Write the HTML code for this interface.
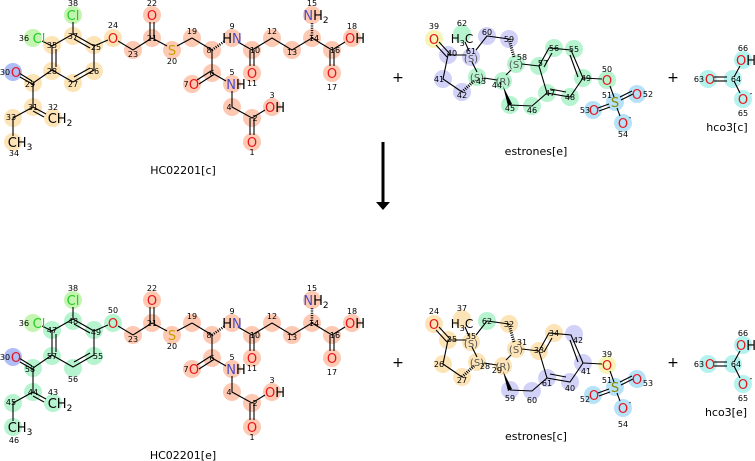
<!DOCTYPE html>
<html><head><meta charset="utf-8"><style>
html,body{margin:0;padding:0;background:#fff;width:755px;height:461px;overflow:hidden}
svg text{font-family:"DejaVu Sans","Liberation Sans",sans-serif;text-anchor:middle}
.n{font-size:8px;fill:#000}
.a{font-size:13px}
.l{font-size:11px;fill:#000}
.O{fill:#e8141a}.N{fill:#4a4ac8}.S{fill:#c8a000}.C{fill:#22cc22}.k{fill:#000}.s{fill:#888800}
line,polyline{stroke:#000;stroke-width:1.1;fill:none}
</style></head><body>
<svg width="755" height="461" viewBox="0 0 755 461" xmlns="http://www.w3.org/2000/svg">
<defs>
<g id="lb">
<polygon points="73,34 94,46 94,70 73,82 52,70 52,46" style="stroke:#000;stroke-width:1.1;fill:none"/>
<line x1="56" y1="49" x2="56" y2="67"/><line x1="74" y1="39" x2="90" y2="48"/><line x1="90" y1="68" x2="74" y2="77"/>
<line x1="73" y1="34" x2="73" y2="22"/><line x1="52" y1="46" x2="42" y2="41"/>
<line x1="94" y1="46" x2="108" y2="40"/><line x1="118" y1="41" x2="133" y2="50"/>
<line x1="133" y1="50" x2="152" y2="38"/><line x1="150" y1="38" x2="150" y2="22"/><line x1="154" y1="38" x2="154" y2="22"/>
<line x1="152" y1="38" x2="167" y2="46"/><line x1="177" y1="46" x2="192" y2="38"/><line x1="192" y1="38" x2="212" y2="50"/>
<line x1="212" y1="50" x2="225" y2="41" style="stroke-dasharray:1 1.3;stroke-width:2.5"/>
<line x1="238" y1="42" x2="252" y2="50"/><line x1="250" y1="50" x2="250" y2="66"/><line x1="254" y1="50" x2="254" y2="66"/>
<polyline points="252,50 272,38 292,50 312,38 332,50"/>
<line x1="312" y1="38" x2="312" y2="23" style="stroke-dasharray:1 1.3;stroke-width:2.5"/>
<line x1="330" y1="50" x2="330" y2="66"/><line x1="334" y1="50" x2="334" y2="66"/><line x1="332" y1="50" x2="345" y2="42"/>
<line x1="212" y1="50" x2="212" y2="73"/><line x1="211" y1="71" x2="197" y2="80"/><line x1="213" y1="75" x2="199" y2="84"/>
<line x1="212" y1="73" x2="226" y2="81"/><polyline points="232,91 232,107 252,118 265,110"/>
<line x1="250" y1="118" x2="250" y2="135"/><line x1="254" y1="118" x2="254" y2="135"/>
<polyline points="52,70 33,83 33,107 13,118 13,136"/><line x1="32" y1="81" x2="19" y2="73"/><line x1="34" y1="85" x2="20" y2="77"/>
<line x1="33" y1="107" x2="46" y2="114"/><line x1="33" y1="111" x2="44" y2="117"/>
</g>
<g id="eb">
<line x1="436" y1="45" x2="447" y2="57"/><line x1="439" y1="42" x2="450" y2="54"/>
<polyline points="466,55 448,55 443,79 462,92"/>
<line x1="462" y1="92" x2="474" y2="81" style="stroke-dasharray:1 1.2;stroke-width:3"/>
<line x1="477" y1="72" x2="472" y2="62"/><line x1="469" y1="51" x2="465" y2="42"/>
<polyline points="476,50 487,36 509,39"/>
<line x1="509" y1="39" x2="514" y2="57" style="stroke-dasharray:1 1.2;stroke-width:3"/>
<line x1="511" y1="70" x2="506" y2="75"/><line x1="497" y1="80" x2="484" y2="78"/>
<polygon points="503,86 508,106 512,104" fill="#000"/>
<polyline points="510,105 532,106 547,93"/><line x1="522" y1="64" x2="539" y2="66"/>
<polygon points="539,66 549,48 571,50 583,78 570,97 547,93" style="stroke:#000;stroke-width:1.1;fill:none"/>
<line x1="544" y1="67" x2="552" y2="53"/><line x1="570" y1="55" x2="578" y2="77"/><line x1="566" y1="92" x2="550" y2="89"/>
<line x1="583" y1="78" x2="602" y2="79"/><line x1="610" y1="86" x2="614" y2="97"/>
<line x1="620" y1="97" x2="632" y2="91"/><line x1="621" y1="100" x2="633" y2="94"/>
<line x1="609" y1="104" x2="598" y2="108"/><line x1="610" y1="107" x2="599" y2="111"/><line x1="617" y1="108" x2="620" y2="116"/>
<line x1="714" y1="77" x2="727" y2="77"/><line x1="714" y1="81" x2="727" y2="81"/>
<line x1="734" y1="77" x2="740" y2="66"/><line x1="734" y1="81" x2="740" y2="93"/>
</g>
</defs>

<!-- TOP LEFT highlights -->
<g fill="#fdc9b2">
<circle cx="152" cy="15" r="9"/><circle cx="152" cy="38" r="9"/><circle cx="133" cy="50" r="9"/><circle cx="172" cy="50" r="9"/><circle cx="192" cy="38" r="9"/><circle cx="212" cy="50" r="9"/><circle cx="232" cy="38" r="9"/><circle cx="252" cy="50" r="9"/><circle cx="252" cy="73" r="9"/><circle cx="272" cy="38" r="9"/><circle cx="292" cy="50" r="9"/><circle cx="312" cy="38" r="9"/><circle cx="312" cy="15" r="9"/><circle cx="332" cy="50" r="9"/><circle cx="332" cy="73" r="9"/><circle cx="352" cy="38" r="9"/><circle cx="212" cy="73" r="9"/><circle cx="192" cy="84" r="9"/><circle cx="232" cy="84" r="9"/><circle cx="232" cy="107" r="9"/><circle cx="252" cy="118" r="9"/><circle cx="272" cy="107" r="9"/><circle cx="252" cy="142" r="9"/>
</g>
<g fill="#fde4b6">
<circle cx="113" cy="38" r="9"/><circle cx="73" cy="36" r="9"/><circle cx="52" cy="45" r="9"/><circle cx="94" cy="45" r="9"/><circle cx="94" cy="71" r="9"/><circle cx="73" cy="83" r="9"/><circle cx="52" cy="71" r="9"/><circle cx="33" cy="83" r="9"/><circle cx="33" cy="107" r="9"/><circle cx="53" cy="118" r="9"/><circle cx="13" cy="118" r="9"/><circle cx="13" cy="142" r="9"/>
</g>
<circle cx="73" cy="15" r="9" fill="#c4f5b0"/><circle cx="33" cy="38" r="9" fill="#c4f5b0"/><circle cx="13" cy="72" r="9" fill="#aebdf5"/>

<!-- BOTTOM LEFT highlights -->
<g transform="translate(0,285)">
<g fill="#fdc9b2">
<circle cx="152" cy="15" r="9"/><circle cx="152" cy="38" r="9"/><circle cx="133" cy="50" r="9"/><circle cx="172" cy="50" r="9"/><circle cx="192" cy="38" r="9"/><circle cx="212" cy="50" r="9"/><circle cx="232" cy="38" r="9"/><circle cx="252" cy="50" r="9"/><circle cx="252" cy="73" r="9"/><circle cx="272" cy="38" r="9"/><circle cx="292" cy="50" r="9"/><circle cx="312" cy="38" r="9"/><circle cx="312" cy="15" r="9"/><circle cx="332" cy="50" r="9"/><circle cx="332" cy="73" r="9"/><circle cx="352" cy="38" r="9"/><circle cx="212" cy="73" r="9"/><circle cx="192" cy="84" r="9"/><circle cx="232" cy="84" r="9"/><circle cx="232" cy="107" r="9"/><circle cx="252" cy="118" r="9"/><circle cx="272" cy="107" r="9"/><circle cx="252" cy="142" r="9"/>
</g>
<g fill="#b6f4d0">
<circle cx="113" cy="38" r="9"/><circle cx="73" cy="36" r="9"/><circle cx="52" cy="45" r="9"/><circle cx="94" cy="45" r="9"/><circle cx="94" cy="71" r="9"/><circle cx="73" cy="83" r="9"/><circle cx="52" cy="71" r="9"/><circle cx="33" cy="83" r="9"/><circle cx="33" cy="107" r="9"/><circle cx="53" cy="118" r="9"/><circle cx="13" cy="118" r="9"/><circle cx="13" cy="142" r="9"/>
</g>
<circle cx="73" cy="15" r="9" fill="#c4f5b0"/><circle cx="33" cy="38" r="9" fill="#c4f5b0"/><circle cx="13" cy="72" r="9" fill="#aebdf5"/>
</g>

<!-- estrone top highlights -->
<circle cx="434" cy="39" r="9" fill="#f7f5b5"/>
<g fill="#d2d2f8"><circle cx="448" cy="55" r="9"/><circle cx="471" cy="57" r="9"/><circle cx="487" cy="36" r="9"/><circle cx="509" cy="39" r="9"/><circle cx="443" cy="79" r="9"/><circle cx="462" cy="92" r="9"/></g>
<g fill="#b6f4d0"><circle cx="462" cy="34" r="9"/><circle cx="516" cy="64" r="9"/><circle cx="477" cy="77" r="9"/><circle cx="503" cy="81" r="9"/><circle cx="510" cy="105" r="9"/><circle cx="532" cy="106" r="9"/><circle cx="547" cy="93" r="9"/><circle cx="539" cy="66" r="9"/><circle cx="554" cy="48" r="9"/><circle cx="574" cy="49" r="9"/><circle cx="583" cy="78" r="9"/><circle cx="570" cy="97" r="9"/><circle cx="607" cy="80" r="9"/></g>
<g fill="#b6e2f8"><circle cx="615" cy="102" r="9"/><circle cx="637" cy="94" r="9"/><circle cx="593" cy="110" r="9"/><circle cx="623" cy="123" r="9"/></g>
<g fill="#b4f2ee"><circle cx="708" cy="79" r="9"/><circle cx="733" cy="79" r="9"/><circle cx="743" cy="60" r="9"/><circle cx="743" cy="99" r="9"/></g>

<!-- estrone bottom highlights -->
<g transform="translate(0,285)">
<circle cx="607" cy="80" r="9" fill="#f7f5b5"/>
<g fill="#fde4b6"><circle cx="434" cy="39" r="9"/><circle cx="448" cy="55" r="9"/><circle cx="471" cy="57" r="9"/><circle cx="462" cy="34" r="9"/><circle cx="509" cy="39" r="9"/><circle cx="516" cy="64" r="9"/><circle cx="477" cy="77" r="9"/><circle cx="503" cy="81" r="9"/><circle cx="443" cy="79" r="9"/><circle cx="462" cy="92" r="9"/><circle cx="539" cy="66" r="9"/><circle cx="554" cy="48" r="9"/></g>
<circle cx="487" cy="36" r="9" fill="#b6f4d0"/>
<g fill="#d2d2f8"><circle cx="510" cy="105" r="9"/><circle cx="532" cy="106" r="9"/><circle cx="547" cy="93" r="9"/><circle cx="574" cy="49" r="9"/><circle cx="583" cy="78" r="9"/><circle cx="570" cy="97" r="9"/></g>
<g fill="#b6e2f8"><circle cx="615" cy="102" r="9"/><circle cx="637" cy="94" r="9"/><circle cx="593" cy="110" r="9"/><circle cx="623" cy="123" r="9"/></g>
<g fill="#b4f2ee"><circle cx="708" cy="79" r="9"/><circle cx="733" cy="79" r="9"/><circle cx="743" cy="60" r="9"/><circle cx="743" cy="99" r="9"/></g>
</g>

<!-- bonds -->
<use href="#lb"/><use href="#lb" transform="translate(0,285)"/>
<use href="#eb"/><use href="#eb" transform="translate(0,285)"/>

<!-- TOP LEFT text -->
<g>
<text class="a C" x="73" y="20">Cl</text><text class="n" x="73" y="6">38</text>
<text class="a C" x="39" y="43">Cl</text><text class="n" x="24" y="41">36</text>
<text class="a O" x="16" y="77">O</text><text class="n" x="5" y="75">30</text>
<text class="n" x="73" y="39">37</text><text class="n" x="52" y="48">35</text><text class="n" x="96" y="50">25</text><text class="n" x="94" y="74">26</text><text class="n" x="73" y="87">27</text><text class="n" x="52" y="74">28</text><text class="n" x="30" y="87">29</text><text class="n" x="33" y="110">31</text><text class="n" x="53" y="110">32</text><text class="n" x="11" y="120">33</text><text class="n" x="14" y="156">34</text>
<text class="a k" x="60" y="123">CH<tspan font-size="9" dy="3">2</tspan></text>
<text class="a k" x="20" y="147">CH<tspan font-size="9" dy="3">3</tspan></text>
</g>
<g transform="translate(0,285)">
<text class="a C" x="73" y="20">Cl</text><text class="n" x="73" y="6">38</text>
<text class="a C" x="39" y="43">Cl</text><text class="n" x="24" y="41">36</text>
<text class="a O" x="16" y="77">O</text><text class="n" x="5" y="75">30</text>
<text class="n" x="73" y="39">48</text><text class="n" x="52" y="48">47</text><text class="n" x="96" y="50">49</text><text class="n" x="98" y="74">55</text><text class="n" x="73" y="97">56</text><text class="n" x="52" y="74">57</text><text class="n" x="30" y="87">58</text><text class="n" x="33" y="110">44</text><text class="n" x="53" y="110">43</text><text class="n" x="11" y="120">45</text><text class="n" x="14" y="158">46</text>
<text class="a k" x="60" y="123">CH<tspan font-size="9" dy="3">2</tspan></text>
<text class="a k" x="20" y="147">CH<tspan font-size="9" dy="3">3</tspan></text>
</g>
<!-- shared chain text (top and bottom) -->
<g id="ct">
<text class="a O" x="152" y="20">O</text><text class="n" x="152" y="6">22</text>
<text class="n" x="152" y="41">21</text><text class="n" x="133" y="57">23</text>
<text class="a S" x="172" y="55">S</text><text class="n" x="172" y="64">20</text>
<text class="n" x="192" y="34">19</text><text class="n" x="209" y="53">8</text>
<text class="a N" x="232" y="43"><tspan class="k">H</tspan>N</text><text class="n" x="232" y="29">9</text>
<text class="n" x="255" y="53">10</text><text class="a O" x="252" y="78">O</text><text class="n" x="252" y="86">11</text>
<text class="n" x="272" y="34">12</text><text class="n" x="292" y="55">13</text>
<text class="n" x="314" y="41">14</text><text class="a N" x="316" y="20">N<tspan class="k">H</tspan><tspan class="k" font-size="9" dy="3">2</tspan></text><text class="n" x="312" y="6">15</text>
<text class="n" x="335" y="53">16</text><text class="a O" x="332" y="78">O</text><text class="n" x="332" y="90">17</text>
<text class="a O" x="355" y="43">O<tspan class="k">H</tspan></text><text class="n" x="352" y="29">18</text>
<text class="n" x="212" y="76">6</text><text class="a O" x="194" y="89">O</text><text class="n" x="186" y="87">7</text>
<text class="a N" x="236" y="89">N<tspan class="k">H</tspan></text><text class="n" x="232" y="75">5</text>
<text class="n" x="229" y="110">4</text><text class="n" x="255" y="121">2</text>
<text class="a O" x="275" y="112">O<tspan class="k">H</tspan></text><text class="n" x="272" y="98">3</text>
<text class="a O" x="252" y="147">O</text><text class="n" x="252" y="155">1</text>
</g>
<use href="#ct" transform="translate(0,285)"/>
<text class="n" x="113" y="28">24</text><text class="a O" x="113" y="43">O</text>
<text class="n" x="113" y="313">50</text><text class="a O" x="113" y="328">O</text>
<text class="l" x="183" y="174">HC02201[c]</text>
<text class="l" x="183" y="459">HC02201[e]</text>

<!-- arrow -->
<line x1="383" y1="142" x2="383" y2="203" style="stroke-width:3"/>
<polygon points="376,202 390,202 383,210" fill="#000"/>
<text x="398" y="82" style="font-size:14px">+</text><text x="673" y="82" style="font-size:14px">+</text>
<text x="398" y="367" style="font-size:14px">+</text><text x="673" y="367" style="font-size:14px">+</text>

<!-- estrone top text -->
<text class="a O" x="434" y="44">O</text><text class="n" x="434" y="29">39</text>
<text class="n" x="452" y="56">40</text><text class="n" x="471" y="54">61</text><text class="a" x="471" y="62" fill="#555" style="font-size:10px">(S)</text>
<text class="a k" x="462" y="43" style="font-size:12px">H<tspan font-size="8" dy="3">3</tspan><tspan dy="-3">C</tspan></text><text class="n" x="462" y="26">62</text>
<text class="n" x="487" y="35">60</text><text class="n" x="509" y="42">59</text>
<text class="a" x="516" y="68" fill="#555" style="font-size:10px">(S)</text><text class="n" x="522" y="60">58</text>
<text class="a" x="477" y="81" fill="#555" style="font-size:10px">(S)</text><text class="n" x="481" y="84">43</text>
<text class="a" x="503" y="85" fill="#555" style="font-size:10px">(R)</text><text class="n" x="497" y="88">44</text>
<text class="n" x="439" y="82">41</text><text class="n" x="462" y="98">42</text>
<text class="n" x="510" y="111">45</text><text class="n" x="532" y="113">46</text><text class="n" x="550" y="96">47</text><text class="n" x="543" y="66">57</text>
<text class="n" x="554" y="51">56</text><text class="n" x="574" y="52">55</text><text class="n" x="586" y="81">49</text><text class="n" x="570" y="100">48</text>
<text class="a O" x="607" y="85">O</text><text class="n" x="607" y="72">50</text>
<text class="a s" x="615" y="107">S</text><text class="n" x="607" y="98">51</text>
<text class="a O" x="637" y="99">O</text><text class="n" x="648" y="97">52</text>
<text class="a O" x="594" y="115">O</text><text class="n" x="585" y="113">53</text>
<text class="a O" x="623" y="128">O</text><text class="n" x="630" y="120">-</text><text class="n" x="623" y="137">54</text>
<text class="l" x="536" y="155">estrones[e]</text>

<!-- estrone bottom text -->
<g transform="translate(0,285)">
<text class="a O" x="434" y="44">O</text><text class="n" x="434" y="29">24</text>
<text class="n" x="452" y="57">25</text><text class="n" x="471" y="54">35</text><text class="a" x="471" y="62" fill="#555" style="font-size:10px">(S)</text>
<text class="a k" x="462" y="43" style="font-size:12px">H<tspan font-size="8" dy="3">3</tspan><tspan dy="-3">C</tspan></text><text class="n" x="462" y="26">37</text>
<text class="n" x="487" y="39">62</text><text class="n" x="509" y="42">32</text>
<text class="a" x="516" y="68" fill="#555" style="font-size:10px">(S)</text><text class="n" x="522" y="60">31</text>
<text class="a" x="477" y="81" fill="#555" style="font-size:10px">(S)</text><text class="n" x="485" y="84">28</text>
<text class="a" x="503" y="85" fill="#555" style="font-size:10px">(R)</text><text class="n" x="497" y="88">29</text>
<text class="n" x="439" y="82">26</text><text class="n" x="462" y="98">27</text>
<text class="n" x="510" y="116">59</text><text class="n" x="532" y="118">60</text><text class="n" x="547" y="101">61</text><text class="n" x="539" y="68">33</text>
<text class="n" x="554" y="51">34</text><text class="n" x="578" y="58">42</text><text class="n" x="586" y="89">41</text><text class="n" x="570" y="106">40</text>
<text class="a O" x="607" y="85">O</text><text class="n" x="607" y="72">39</text>
<text class="a s" x="615" y="107">S</text><text class="n" x="607" y="98">51</text>
<text class="a O" x="637" y="99">O</text><text class="n" x="648" y="101">53</text>
<text class="a O" x="594" y="115">O</text><text class="n" x="585" y="117">52</text>
<text class="a O" x="623" y="128">O</text><text class="n" x="630" y="120">-</text><text class="n" x="623" y="142">54</text>
</g>
<text class="l" x="536" y="440">estrones[c]</text>

<!-- hco3 -->
<g id="hc">
<text class="a O" x="710" y="84">O</text><text class="n" x="699" y="82">63</text>
<text class="n" x="736" y="82">64</text>
<text class="a O" x="746" y="65">O<tspan class="k">H</tspan></text><text class="n" x="743" y="51">66</text>
<text class="a O" x="743" y="104">O</text><text class="n" x="751" y="96">-</text><text class="n" x="743" y="116">65</text>
</g>
<use href="#hc" transform="translate(0,285)"/>
<text class="l" x="727" y="131">hco3[c]</text>
<text class="l" x="726" y="416">hco3[e]</text>
</svg>
</body></html>
